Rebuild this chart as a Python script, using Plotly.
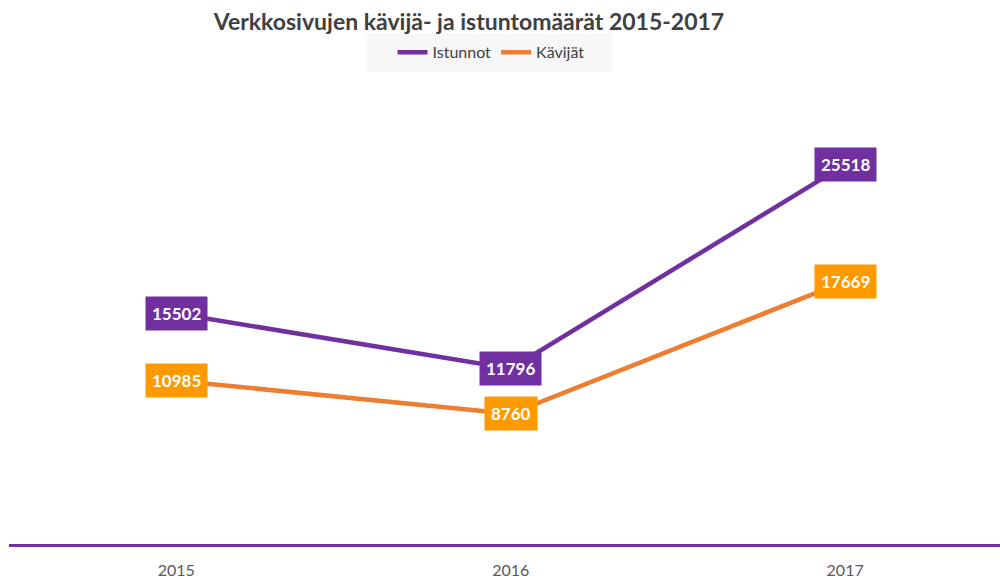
import plotly.graph_objects as go

years = ["2015", "2016", "2017"]
istunnot = [15502, 11796, 25518]
kavijat = [10985, 8760, 17669]

title_text = "Verkkosivujen kävijä- ja istuntomäärät 2015-2017"
series_names = ["Istunnot", "Kävijät"]
line_colors = ["#7030A0", "#ED7D31"]
label_colors = ["#7030A0", "#FF9900"]

font_family = "Lato"

# plot-area geometry (pixels) used to place layout decorations
L, R, T, B, W, H = 9, 0, 98, 32, 1000, 579
PW, PH = W - L - R, H - T - B


def px_x(p):
    return (p - L) / PW


def px_y(p):
    return (H - B - p) / PH


fig = go.Figure()
for name, vals, lc in zip(series_names, [istunnot, kavijat], line_colors):
    fig.add_trace(go.Scatter(
        x=years, y=vals, name=name, mode="lines",
        line=dict(color=lc, width=4.5),
        hoverinfo="skip",
    ))

for vals, bc in zip([istunnot, kavijat], label_colors):
    for i, v in enumerate(vals):
        fig.add_annotation(
            x=i, y=v, xref="x", yref="y", text="<b>" + str(v) + "</b>",
            showarrow=False, bgcolor=bc, borderpad=6,
            font=dict(color="#FFFFFF", size=17, family=font_family),
            xanchor="center", yanchor="middle",
        )

# legend background panel
fig.add_shape(type="rect", xref="paper", yref="paper",
              x0=px_x(367), x1=px_x(612), y0=px_y(72), y1=px_y(33),
              fillcolor="#F7F7F7", line=dict(width=0), layer="below")

fig.update_layout(
    width=W, height=H,
    margin=dict(l=L, r=R, t=T, b=B),
    paper_bgcolor="white", plot_bgcolor="white",
    title=dict(text="<b>" + title_text + "</b>", x=0.469, xanchor="center",
               y=1 - 22 / H, yanchor="middle",
               font=dict(size=23, color="#404040", family=font_family)),
    legend=dict(orientation="h", x=px_x(491), xanchor="center", y=px_y(52),
                yanchor="middle", bgcolor="rgba(0,0,0,0)",
                font=dict(size=16, color="#404040", family=font_family)),
    xaxis=dict(type="category", range=[-0.5, 2.463], showgrid=False,
               showline=True, linecolor="#7030A0", linewidth=3,
               ticks="", ticklabelstandoff=10,
               tickfont=dict(size=16, color="#595959", family=font_family),
               fixedrange=True),
    yaxis=dict(range=[0, 30000], showgrid=False, zeroline=False, showline=False,
               showticklabels=False, ticks="", fixedrange=True),
    showlegend=True,
)

fig.write_html("out.html", config={"displayModeBar": False},
               post_script="document.body.style.margin='0';")
